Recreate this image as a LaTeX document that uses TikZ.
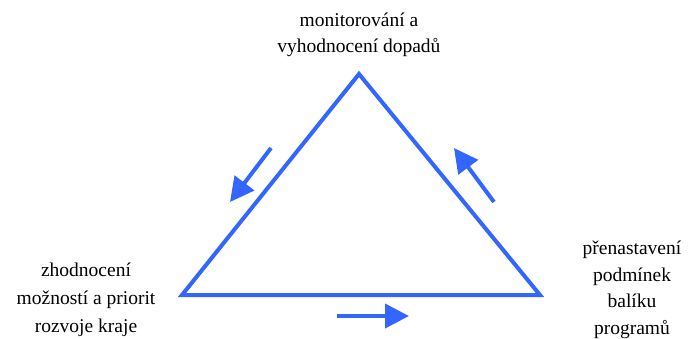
\documentclass[tikz,border=0pt]{standalone}
\usepackage{fontspec}
\setmainfont{Liberation Serif}
\usetikzlibrary{arrows.meta}
\definecolor{tblue}{HTML}{3366FF}
\begin{document}
\begin{tikzpicture}[x=1pt,y=-1pt,
  edge/.style={draw=tblue,line width=4pt,line join=miter},
  flow/.style={draw=tblue,line width=4pt,-{Triangle[length=24pt,width=24pt]}},
  lbl/.style={font=\fontsize{19.5}{26.5}\selectfont,align=center,inner sep=0pt}]
\useasboundingbox (0,0) rectangle (691,338);
\coordinate (T) at (359,74);
\coordinate (L) at (182,295);
\coordinate (R) at (540,295);
\draw[edge] (T) -- (L) -- (R) -- cycle;
\coordinate (a1) at (271,148);
\coordinate (a2) at (230,202);
\coordinate (b1) at (494,202);
\coordinate (b2) at (454,148);
\coordinate (c1) at (337,316);
\coordinate (c2) at (409,316);
\draw[flow] (a1) -- (a2);
\draw[flow] (b1) -- (b2);
\draw[flow] (c1) -- (c2);
\node[lbl] (tt) at (359,35) {monitorování a\\vyhodnocení dopadů};
\node[lbl,font=\fontsize{19.5}{28}\selectfont] (lt) at (86,300) {zhodnocení\\možností a priorit\\rozvoje kraje};
\node[lbl] (rt) at (632,290) {přenastavení\\podmínek\\balíku\\programů};
\end{tikzpicture}
\end{document}
